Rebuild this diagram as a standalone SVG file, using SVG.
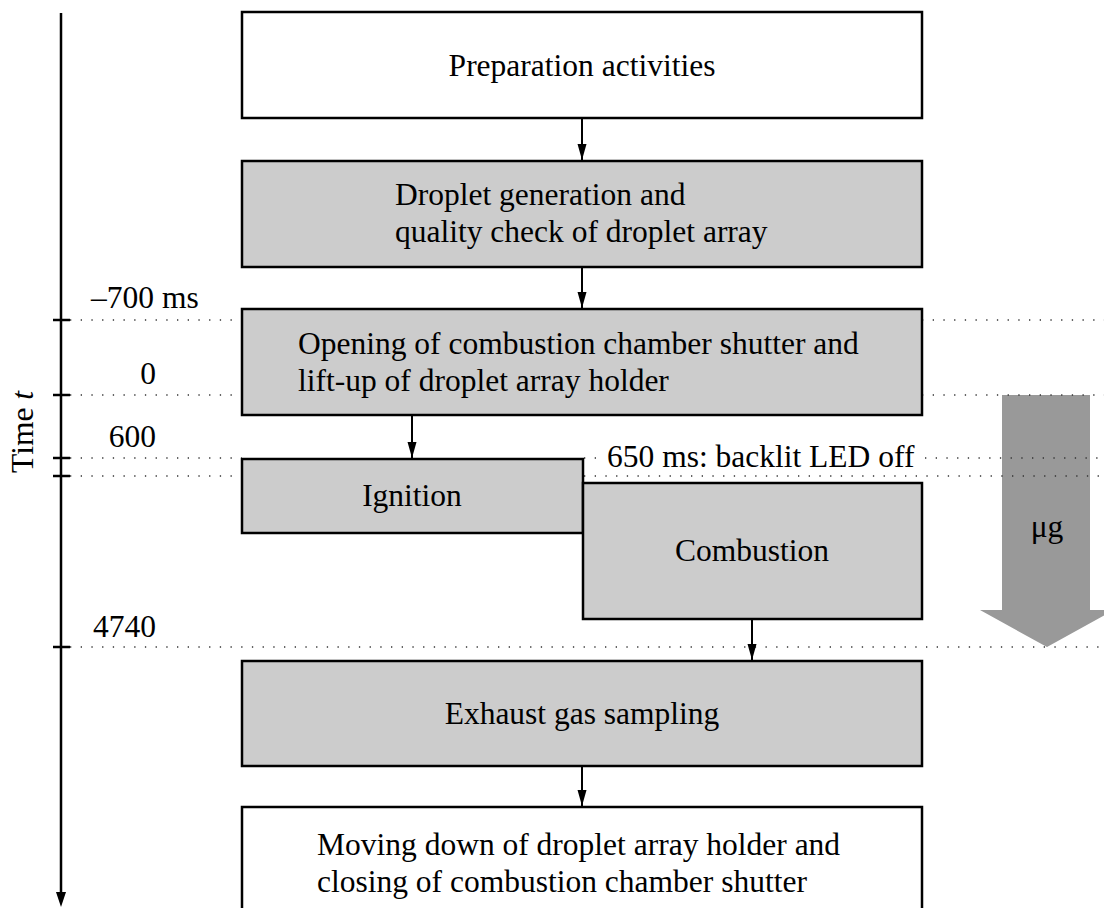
<svg xmlns="http://www.w3.org/2000/svg" width="1104" height="908" viewBox="0 0 1104 908">
<defs>
<style>
text{font-family:"Liberation Serif","Times New Roman",serif;font-size:31.5px;fill:#000}
.box{stroke:#000;stroke-width:2.5}
.w{fill:#fff}
.g{fill:#ccc}
.dot{stroke:#333;stroke-width:1.3;stroke-dasharray:1.3 9.4;fill:none}
.tick{stroke:#000;stroke-width:2.5}
.conn{stroke:#000;stroke-width:2;fill:none}
.mid{text-anchor:middle}
.end{text-anchor:end}
</style>
<marker id="ah" markerUnits="userSpaceOnUse" markerWidth="17" markerHeight="10" refX="16" refY="5" orient="auto" viewBox="0 0 17 10">
<path d="M0,0.5 L16,5 L0,9.5 Z" fill="#000"/>
</marker>
</defs>
<rect width="1104" height="908" fill="#fff"/>

<g id="gravity-arrow">
<polygon points="1002,395 1090,395 1090,610 1114,610 1047,647 980,610 1002,610" fill="#999"/>
<text x="1047" y="537" class="mid">μg</text>
</g>

<g id="time-axis">
<line x1="61" y1="13" x2="61" y2="895" stroke="#000" stroke-width="2.5"/>
<polygon points="61,907 56,892 66,892" fill="#000"/>
<line class="tick" x1="53" y1="320" x2="70" y2="320"/>
<line class="tick" x1="53" y1="395" x2="70" y2="395"/>
<line class="tick" x1="53" y1="458" x2="70" y2="458"/>
<line class="tick" x1="53" y1="476" x2="70" y2="476"/>
<line class="tick" x1="53" y1="647" x2="70" y2="647"/>
<text x="33" y="432" class="mid" transform="rotate(-90 33 432)">Time <tspan font-style="italic">t</tspan></text>
<text x="91" y="308">–700 ms</text>
<text x="156" y="384" class="end">0</text>
<text x="156" y="447" class="end">600</text>
<text x="156" y="637" class="end">4740</text>
<text x="607" y="467">650 ms: backlit LED off</text>
</g>

<g id="time-lines">
<path class="dot" d="M70,320 H242 M922,320 H1104"/>
<path class="dot" d="M70,395 H242 M922,395 H1104"/>
<path class="dot" d="M70,458 H242 M584,458 H604 M925,458 H1104"/>
<path class="dot" d="M70,476 H242 M584,476 H1104"/>
<path class="dot" d="M70,647 H1104"/>
</g>

<g id="connectors">
<line class="conn" x1="582" y1="118" x2="582" y2="160" marker-end="url(#ah)"/>
<line class="conn" x1="582" y1="267" x2="582" y2="308" marker-end="url(#ah)"/>
<line class="conn" x1="412" y1="415" x2="412" y2="458" marker-end="url(#ah)"/>
<line class="conn" x1="752" y1="619" x2="752" y2="660" marker-end="url(#ah)"/>
<line class="conn" x1="582" y1="766" x2="582" y2="806" marker-end="url(#ah)"/>
</g>

<g id="preparation">
<rect class="box w" x="242" y="12" width="680" height="106"/>
<text x="582" y="76" class="mid">Preparation activities</text>
</g>

<g id="droplet-generation">
<rect class="box g" x="242" y="161" width="680" height="106"/>
<text x="395" y="205">Droplet generation and</text>
<text x="395" y="242">quality check of droplet array</text>
</g>

<g id="opening">
<rect class="box g" x="242" y="309" width="680" height="106"/>
<text x="298" y="354">Opening of combustion chamber shutter and</text>
<text x="298" y="391">lift-up of droplet array holder</text>
</g>

<g id="ignition">
<rect class="box g" x="242" y="459" width="341" height="74"/>
<text x="412" y="506" class="mid">Ignition</text>
</g>

<g id="combustion">
<rect class="box g" x="583" y="483" width="339" height="136"/>
<text x="752" y="561" class="mid">Combustion</text>
</g>

<g id="exhaust">
<rect class="box g" x="242" y="661" width="680" height="105"/>
<text x="582" y="724" class="mid">Exhaust gas sampling</text>
</g>

<g id="moving-down">
<rect class="box w" x="242" y="807" width="680" height="108"/>
<text x="317" y="855">Moving down of droplet array holder and</text>
<text x="317" y="892">closing of combustion chamber shutter</text>
</g>
</svg>
